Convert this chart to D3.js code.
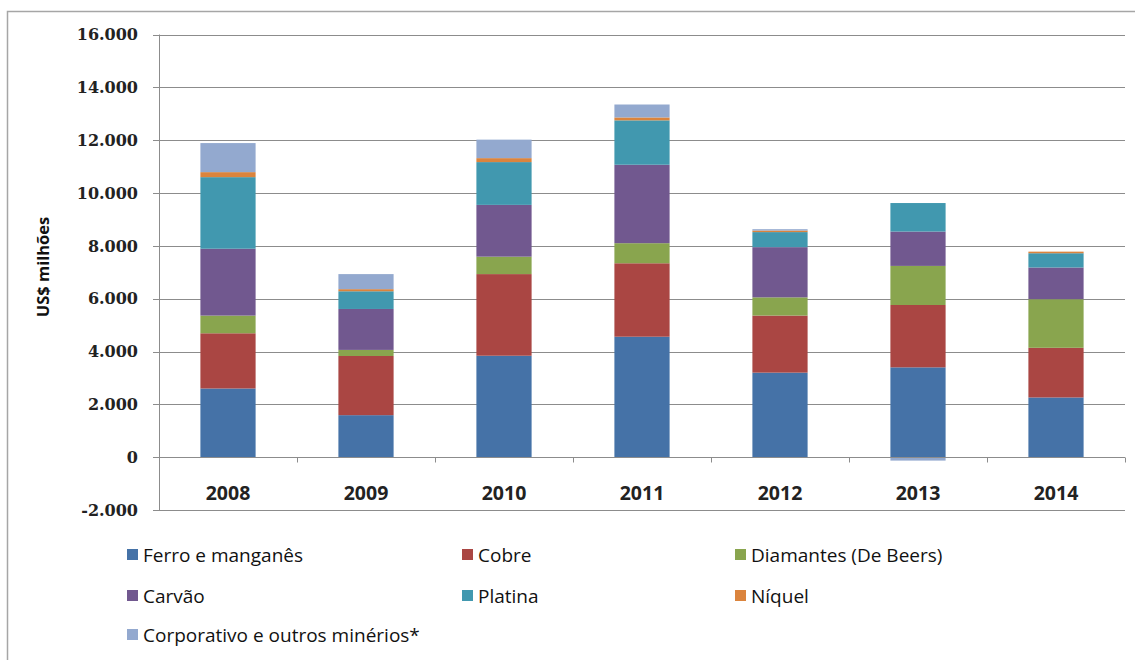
<!DOCTYPE html>
<html lang="pt">

<head>
  <meta charset="utf-8">
  <title>Anglo American - resultado por unidade</title>
  <script src="https://cdn.jsdelivr.net/npm/d3@7/dist/d3.min.js"></script>
  <style>
    body { margin: 0; background: #fff; }
    .tick-label { font-family: "DejaVu Serif", serif; font-weight: bold; font-size: 16px; fill: #222; }
    .cat-label { font-family: "Open Sans", sans-serif; font-weight: bold; font-size: 19.5px; fill: #222; }
    .legend-label { font-family: "Open Sans", sans-serif; font-size: 19px; fill: #111; }
    .axis-title { font-family: "Open Sans", sans-serif; font-weight: bold; font-size: 16.5px; fill: #111; }
  </style>
</head>

<body>
  <script>
    // dados (US$ milhoes)
    var years = ["2008", "2009", "2010", "2011", "2012", "2013", "2014"];
    var seriesNames = ["Ferro e manganês", "Cobre", "Diamantes (De Beers)", "Carvão",
                       "Platina", "Níquel", "Corporativo e outros minérios*"];
    var ferro       = [2600, 1590, 3840, 4560, 3200, 3400, 2260];
    var cobre       = [2090, 2240, 3090, 2780, 2160, 2360, 1880];
    var diamantes   = [ 670,  230,  660,  760,  690, 1480, 1840];
    var carvao      = [2530, 1550, 1960, 2970, 1900, 1300, 1200];
    var platina     = [2710,  670, 1620, 1680,  570, 1080,  540];
    var niquel      = [ 190,   80,  150,  110,   60,    0,   60];
    var corporativo = [1100,  570,  700,  490,   50, -130,    0];
    var yTicks = [-2000, 0, 2000, 4000, 6000, 8000, 10000, 12000, 14000, 16000];

    var colors = ["#4572A7", "#AA4643", "#89A54E", "#71588F", "#4198AF", "#DB843D", "#93A9CF"];
    var seriesValues = [ferro, cobre, diamantes, carvao, platina, niquel, corporativo];

    var rows = years.map(function (yr, i) {
      var row = { year: yr };
      seriesNames.forEach(function (name, s) {
        row[name] = seriesValues[s][i];
      });
      return row;
    });

    var w = 1135;
    var h = 660;
    var margin = { top: 34.5, left: 159 };
    var plotRight = 1125;
    var plotBottom = 510;

    var svg = d3.select("body").append("svg")
                .attr("width", w)
                .attr("height", h);

    // moldura
    svg.append("rect")
       .attr("x", 7.5)
       .attr("y", 11.5)
       .attr("width", 1140)
       .attr("height", 700)
       .attr("fill", "none")
       .attr("stroke", "#a6a6a6")
       .attr("stroke-width", 1.5);

    var x = d3.scaleBand()
              .domain(years)
              .range([margin.left, plotRight])
              .paddingInner(0.6)
              .paddingOuter(0.3);
    var y = d3.scaleLinear()
              .domain([-2000, 16000])
              .range([plotBottom, margin.top]);

    // linhas de grade
    svg.append("g")
       .selectAll("line")
       .data(yTicks)
       .enter()
         .append("line")
         .attr("x1", margin.left - 6)
         .attr("x2", plotRight)
         .attr("y1", function (d) { return Math.round(y(d)) + 0.5; })
         .attr("y2", function (d) { return Math.round(y(d)) + 0.5; })
         .attr("stroke", "#8c8c8c")
         .attr("stroke-width", 1);

    // eixo vertical
    svg.append("line")
       .attr("x1", margin.left + 0.5)
       .attr("x2", margin.left + 0.5)
       .attr("y1", y(16000))
       .attr("y2", y(-2000))
       .attr("stroke", "#8c8c8c");

    // separador de milhar com ponto, sinal com hifen
    var fmt = function (d) {
      return d3.format(",")(d).replace(/,/g, ".").replace("\u2212", "-");
    };
    svg.append("g")
       .selectAll("text")
       .data(yTicks)
       .enter()
         .append("text")
         .classed("tick-label", true)
         .attr("x", 138)
         .attr("y", function (d) { return y(d); })
         .attr("dy", "0.36em")
         .attr("text-anchor", "end")
         .text(fmt);

    svg.append("text")
       .classed("axis-title", true)
       .attr("transform", "translate(49," + 267 + ") rotate(-90)")
       .attr("text-anchor", "middle")
       .text("US$ milhões");

    // barras empilhadas
    var stack = d3.stack()
                  .keys(seriesNames)
                  .offset(d3.stackOffsetDiverging);
    var layers = stack(rows);

    svg.append("g")
       .selectAll("g")
       .data(layers)
       .enter()
         .append("g")
         .attr("fill", function (d, i) { return colors[i]; })
         .selectAll("rect")
         .data(function (d) { return d; })
         .enter()
           .append("rect")
           .attr("x", function (d) { return x(d.data.year); })
           .attr("width", x.bandwidth())
           .attr("y", function (d) { return y(d[1]); })
           .attr("height", function (d) { return y(d[0]) - y(d[1]); });

    // eixo das categorias (em zero)
    var zeroY = Math.round(y(0)) + 0.5;
    var xAxis = svg.append("g");
    xAxis.append("line")
         .attr("x1", margin.left)
         .attr("x2", plotRight)
         .attr("y1", zeroY)
         .attr("y2", zeroY)
         .attr("stroke", "#8c8c8c");
    var bounds = d3.range(years.length + 1).map(function (i) {
      return margin.left + i * x.step();
    });
    xAxis.selectAll(".cat-tick")
         .data(bounds)
         .enter()
           .append("line")
           .classed("cat-tick", true)
           .attr("x1", function (d) { return Math.round(d) + 0.5; })
           .attr("x2", function (d) { return Math.round(d) + 0.5; })
           .attr("y1", zeroY)
           .attr("y2", zeroY + 5)
           .attr("stroke", "#8c8c8c");
    xAxis.selectAll(".cat-label")
         .data(years)
         .enter()
           .append("text")
           .classed("cat-label", true)
           .attr("x", function (d) { return x(d) + x.bandwidth() / 2; })
           .attr("y", 493)
           .attr("dy", "0.36em")
           .attr("text-anchor", "middle")
           .text(function (d) { return d; });

    // legenda
    var legendPos = [
      [127, 555], [462, 555], [735, 555],
      [127, 596], [462, 596], [735, 596],
      [127, 635]
    ];
    var legend = svg.append("g")
                    .selectAll("g")
                    .data(seriesNames)
                    .enter()
                      .append("g")
                      .attr("transform", function (d, i) {
                        return "translate(" + legendPos[i][0] + "," + legendPos[i][1] + ")";
                      });
    legend.append("rect")
          .attr("x", 0)
          .attr("y", -6)
          .attr("width", 11)
          .attr("height", 11)
          .attr("fill", function (d, i) { return colors[i]; });
    legend.append("text")
          .classed("legend-label", true)
          .attr("x", 16)
          .attr("dy", "0.35em")
          .text(function (d) { return d; });
  </script>
</body>

</html>
